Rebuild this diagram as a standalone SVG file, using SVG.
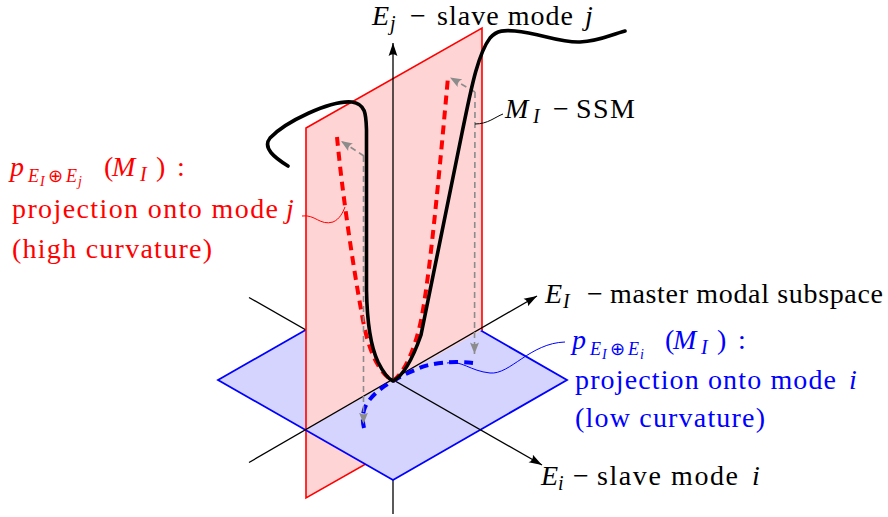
<svg xmlns="http://www.w3.org/2000/svg" width="888" height="517" viewBox="0 0 888 517">
<style>
.ax{stroke:#000;stroke-width:1.3;fill:none}
.pk{fill:#ffd4d4}
.bl{fill:#d4d4ff}
.rs{stroke:#ff0000;stroke-width:1.6;fill:none}
.gray{stroke:#8c8c8c;stroke-width:1.6;stroke-dasharray:6 4;fill:none}
.lead{fill:none;stroke-width:1}
</style>
<defs>
<marker id="ah" markerUnits="userSpaceOnUse" viewBox="0 0 14 10" markerWidth="14" markerHeight="10" refX="13" refY="5" orient="auto">
<path d="M13,5 L0,0.6 Q3.5,5 0,9.4 Z" fill="#000"/>
</marker>
<marker id="gh" markerUnits="userSpaceOnUse" viewBox="0 0 12 9" markerWidth="12" markerHeight="9" refX="11.5" refY="4.5" orient="auto">
<path d="M11.5,4.5 L0,0 Q3.5,4.5 0,9 Z" fill="#8c8c8c"/>
</marker>
</defs>

<g id="plane-j-lower">
<polygon class="pk" points="306,430 482,330 482,398 306,498"/>
<polygon class="rs" points="306,430 482,330 482,398 306,498"/>
</g>

<g id="axis-j-lower">
<line class="ax" x1="393" y1="380" x2="393" y2="514"/>
</g>

<g id="plane-Ii">
<polygon class="bl" points="218,380 393,280 567,380 393,480" stroke="#0000ff" stroke-width="1.8"/>
</g>

<g id="axis-i">
<line class="ax" x1="249" y1="297.5" x2="542" y2="465" marker-end="url(#ah)"/>
</g>

<g id="plane-j-upper">
<polygon class="pk" points="306,128 482,28 482,330 306,430"/>
<polyline class="rs" points="306,430 306,128 482,28 482,330"/>
</g>

<g id="axes">
<line class="ax" x1="249" y1="462.5" x2="537" y2="296" marker-end="url(#ah)"/>
<line class="ax" x1="393" y1="380" x2="393" y2="43" marker-end="url(#ah)"/>
</g>

<g id="proj-i">
<path d="M473,363 C455,361 430,362 415,370 C405,374 398,378 393,381 C380,388 368,398 364,410 C362,418 363,424 364,428" fill="none" stroke="#0000ff" stroke-width="4" stroke-dasharray="9 6"/>
</g>

<g id="proj-j">
<path d="M337,137 C342,190 352,260 362,315 C368,350 378,372 393,381 C405,372 414,350 420,325 C428,290 437,200 448,77" fill="none" stroke="#ff0000" stroke-width="4" stroke-dasharray="9 6"/>
</g>

<g id="connectors">
<path class="gray" d="M363.5,156 L363.5,424" marker-end="url(#gh)"/>
<path class="gray" d="M364,156 L341,141" marker-end="url(#gh)"/>
<path class="gray" d="M475,92 L474.5,354" marker-end="url(#gh)"/>
<path class="gray" d="M475,92 L450,77.5" marker-end="url(#gh)"/>
<path class="lead" stroke="#000" d="M503,114 C495,117 488,124 475,124"/>
<path class="lead" stroke="#ff0000" d="M302,216 C315,214 320,226 333,222 C340,219 343,212 345,207"/>
<path class="lead" stroke="#0000ff" d="M565,342 C530,343 510,375 490,373 C470,371 462,360 447,363"/>
</g>

<g id="ssm">
<path d="M288,166 C275,158 262,148 270,138 C285,122 330,100 352,102 C366,104 366,115 366.5,130 L366.5,290 C367,320 370,345 378,362 C383,372 388,379 393,381 C405,375 414,355 421,335 L462,133 C470,95 477,55 490,38 C497,30 505,30 515,31 C540,33 560,43 580,42 C600,41 610,35 625,31" fill="none" stroke="#000" stroke-width="3.6" stroke-linecap="round" stroke-linejoin="round"/>
</g>

<g id="label-Ej">
<text font-family="Liberation Serif" font-size="28" fill="#000"><tspan font-style="italic" x="372" y="25">E</tspan><tspan font-style="italic" font-size="20" x="390" y="30">j</tspan><tspan x="410" y="25">−</tspan><tspan x="437" y="25" textLength="136" lengthAdjust="spacing">slave mode</tspan><tspan font-style="italic" x="585" y="25">j</tspan></text>
</g>

<g id="label-MI">
<text font-family="Liberation Serif" font-size="28" fill="#000"><tspan font-style="italic" x="505" y="118">M</tspan><tspan font-style="italic" font-size="20" x="533" y="123">I</tspan><tspan x="553" y="118">−</tspan><tspan x="576" y="118" textLength="59" lengthAdjust="spacing">SSM</tspan></text>
</g>

<g id="label-EI">
<text font-family="Liberation Serif" font-size="28" fill="#000"><tspan font-style="italic" x="545" y="303">E</tspan><tspan font-style="italic" font-size="20" x="563" y="308">I</tspan><tspan x="587" y="303">−</tspan><tspan x="610" y="303" textLength="273" lengthAdjust="spacing">master modal subspace</tspan></text>
</g>

<g id="label-Ei">
<text font-family="Liberation Serif" font-size="28" fill="#000"><tspan font-style="italic" x="541" y="485">E</tspan><tspan font-style="italic" font-size="20" x="558" y="490">i</tspan><tspan x="573" y="485">−</tspan><tspan x="597" y="485" textLength="141" lengthAdjust="spacing">slave mode</tspan><tspan font-style="italic" x="752" y="485">i</tspan></text>
</g>

<g id="label-proj-j">
<text font-family="Liberation Serif" font-size="28" fill="#ff0000"><tspan font-style="italic" x="10" y="176">p</tspan><tspan font-style="italic" font-size="18" x="28" y="182">E</tspan><tspan font-style="italic" font-size="14" x="40" y="186">I</tspan><tspan font-size="18" x="48" y="182">⊕</tspan><tspan font-style="italic" font-size="18" x="66" y="182">E</tspan><tspan font-style="italic" font-size="14" x="78" y="186">j</tspan><tspan x="104" y="176">(</tspan><tspan font-style="italic" x="112" y="176">M</tspan><tspan font-style="italic" font-size="20" x="140" y="181">I</tspan><tspan x="156" y="176">)</tspan><tspan x="177" y="176">:</tspan></text>
<text font-family="Liberation Serif" font-size="28" fill="#ff0000"><tspan x="12" y="218" textLength="266" lengthAdjust="spacing">projection onto mode</tspan><tspan font-style="italic" x="286" y="218">j</tspan></text>
<text font-family="Liberation Serif" font-size="28" fill="#ff0000" x="12" y="258" textLength="200" lengthAdjust="spacing">(high curvature)</text>
</g>

<g id="label-proj-i">
<text font-family="Liberation Serif" font-size="28" fill="#0000ff"><tspan font-style="italic" x="572" y="349">p</tspan><tspan font-style="italic" font-size="18" x="590" y="355">E</tspan><tspan font-style="italic" font-size="14" x="602" y="359">I</tspan><tspan font-size="18" x="610" y="355">⊕</tspan><tspan font-style="italic" font-size="18" x="628" y="355">E</tspan><tspan font-style="italic" font-size="14" x="640" y="359">i</tspan><tspan x="665" y="349">(</tspan><tspan font-style="italic" x="673" y="349">M</tspan><tspan font-style="italic" font-size="20" x="701" y="354">I</tspan><tspan x="717" y="349">)</tspan><tspan x="738" y="349">:</tspan></text>
<text font-family="Liberation Serif" font-size="28" fill="#0000ff"><tspan x="575" y="389" textLength="261" lengthAdjust="spacing">projection onto mode</tspan><tspan font-style="italic" x="849" y="389">i</tspan></text>
<text font-family="Liberation Serif" font-size="28" fill="#0000ff" x="575" y="427" textLength="190" lengthAdjust="spacing">(low curvature)</text>
</g>
</svg>
